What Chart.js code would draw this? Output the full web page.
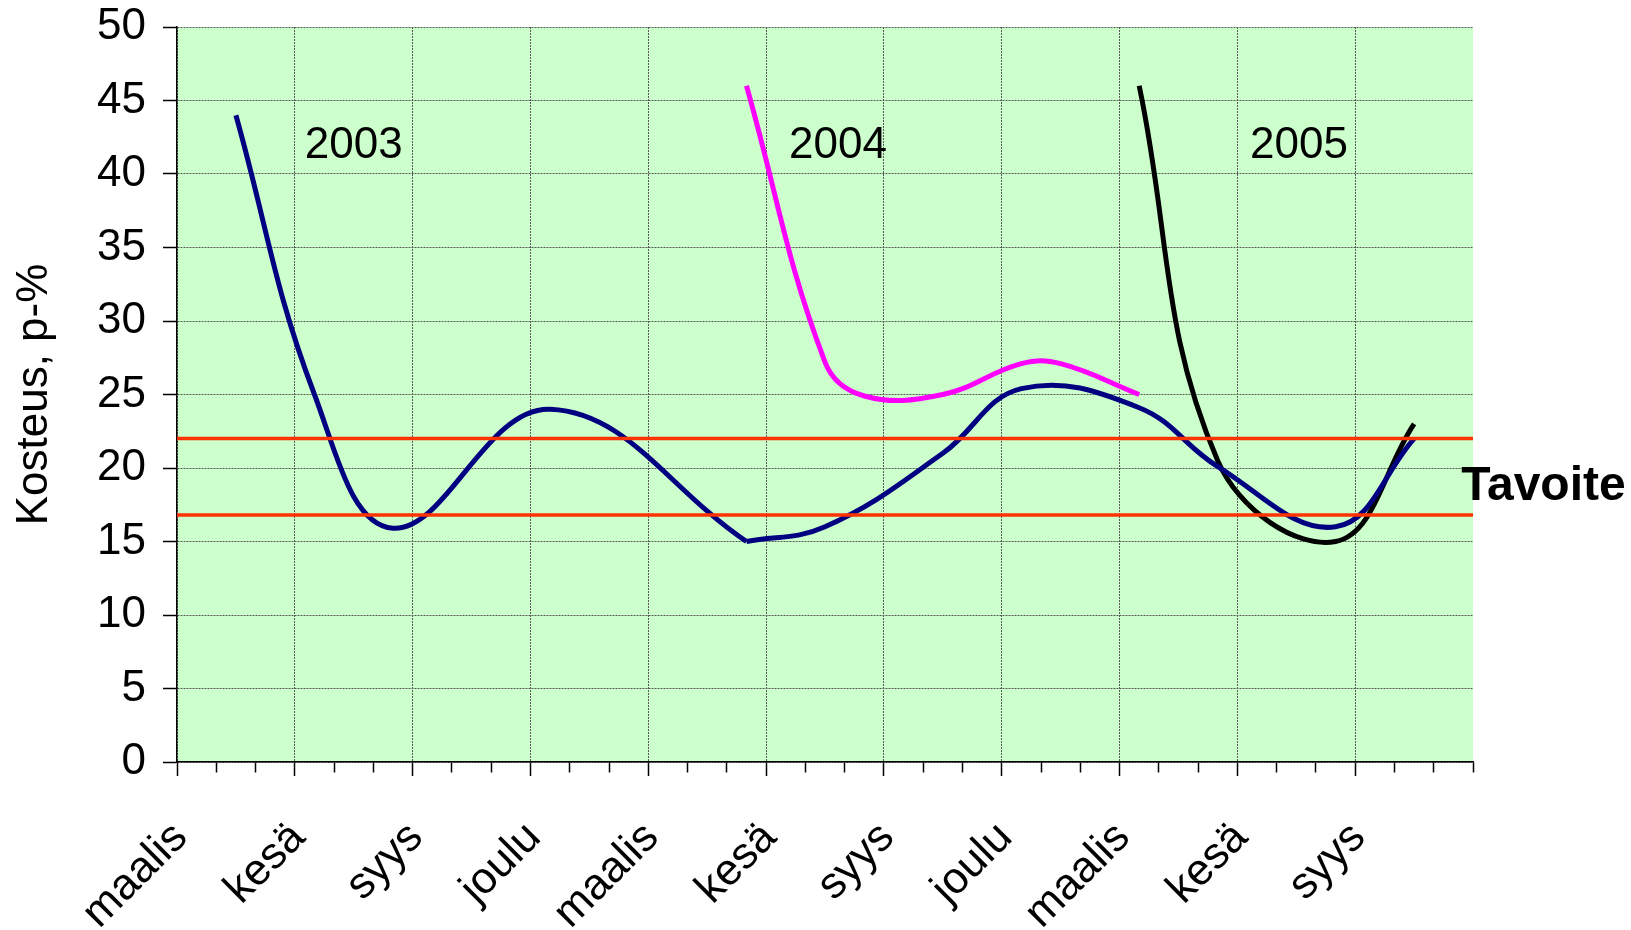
<!DOCTYPE html>
<html>
<head>
<meta charset="utf-8">
<script src="https://cdn.jsdelivr.net/npm/chart.js@4/dist/chart.umd.min.js"></script>
<style>
    html, body { margin: 0; padding: 0; background: #ffffff; }
    #wrap { width: 1631px; height: 930px; }
</style>
</head>
<body>
<div id="wrap"><canvas id="chart" width="1631" height="930"></canvas></div>
<script>
// kuukaudet maalis 2003 - marras 2005
const kuukaudet = [
    "maalis", "huhti", "touko", "kesä", "heinä", "elo", "syys", "loka", "marras", "joulu", "tammi", "helmi",
    "maalis", "huhti", "touko", "kesä", "heinä", "elo", "syys", "loka", "marras", "joulu", "tammi", "helmi",
    "maalis", "huhti", "touko", "kesä", "heinä", "elo", "syys", "loka", "marras"
];

const n = null;
// 2003 alkaen (tummansininen), kaksi osaa
const sarja2003 = [n, 44, n, 25, n, 15.9, n, n, n, 24, n, n, n, n, 15, n, n, n, n, n, n, n, n, n, n, n, n, n, n, n, n, n, n];
const sarja2003b = [n, n, n, n, n, n, n, n, n, n, n, n, n, n, 15, n, 16, n, n, 21, n, 25.4, n, n, 24.1, n, 20.1, n, n, 16, n, 22, n];
const sarja2004 = [n, n, n, n, n, n, n, n, n, n, n, n, n, n, 46, n, 27.2, 24.9, n, 25.0, n, 27.1, 27.1, n, 25, n, n, n, n, n, n, n, n];
const sarja2005 = [n, n, n, n, n, n, n, n, n, n, n, n, n, n, n, n, n, n, n, n, n, n, n, n, 46, n, 20.5, n, n, 15, n, 23, n];

const tavoiteYla = 22;
const tavoiteAla = 16.8;

const vuodet = ["2003", "2004", "2005"];
const vuosiX = [4.5, 16.83, 28.57];
const vuosiY = 41.9;

const fontti = "Arial, 'Liberation Sans', sans-serif";
const gridColor = "#5a5a5a";

const taustaPlugin = {
    id: "tausta",
    beforeDraw(chart) {
        const { ctx, chartArea } = chart;
        ctx.save();
        ctx.fillStyle = "#ffffff";
        ctx.fillRect(0, 0, chart.width, chart.height);
        ctx.fillStyle = "#CCFFCC";
        ctx.fillRect(chartArea.left, chartArea.top, chartArea.right - chartArea.left, chartArea.bottom - chartArea.top);
        ctx.restore();
    }
};

const tekstiPlugin = {
    id: "tekstit",
    afterDraw(chart) {
        const ctx = chart.ctx;
        const x2 = chart.scales.x2;
        const y = chart.scales.y;
        ctx.save();
        ctx.fillStyle = "#000000";
        ctx.textBaseline = "middle";
        ctx.textAlign = "center";
        ctx.font = "44px " + fontti;
        for (let i = 0; i < vuodet.length; i++) {
            ctx.fillText(vuodet[i], x2.getPixelForValue(vuosiX[i]), y.getPixelForValue(vuosiY));
        }
        ctx.textAlign = "left";
        ctx.font = "bold 48px " + fontti;
        ctx.fillText("Tavoite", x2.getPixelForValue(32.7), y.getPixelForValue(18.7));
        ctx.restore();
    }
};

function viiva(label, data, color, width, tension) {
    return {
        label: label,
        data: data,
        borderColor: color,
        backgroundColor: color,
        borderWidth: width,
        pointRadius: 0,
        spanGaps: true,
        tension: tension,
        fill: false,
        xAxisID: "x",
        yAxisID: "y"
    };
}

function tavoiteViiva(arvo) {
    return {
        label: "Tavoite " + arvo,
        data: [{ x: 0, y: arvo }, { x: kuukaudet.length, y: arvo }],
        borderColor: "#FF3300",
        borderWidth: 3.5,
        pointRadius: 0,
        tension: 0,
        fill: false,
        xAxisID: "x2",
        yAxisID: "y"
    };
}

const ctx = document.getElementById("chart");

const graph = new Chart(ctx, {
    type: "line",
    data: {
        labels: kuukaudet,
        datasets: [
            tavoiteViiva(tavoiteYla),
            tavoiteViiva(tavoiteAla),
            viiva("2003", sarja2003, "#000080", 5, 0.4),
            viiva("2003b", sarja2003b, "#000080", 5, 0.4),
            viiva("2004", sarja2004, "#FF00FF", 5, 0.4),
            viiva("2005", sarja2005, "#000000", 5, 0.4)
        ]
    },
    options: {
        responsive: false,
        animation: false,
        devicePixelRatio: 1,
        layout: {
            padding: { left: 0, top: 27, right: 158, bottom: 0 }
        },
        scales: {
            x: {
                type: "category",
                offset: true,
                grid: {
                    offset: true,
                    color: function(context) {
                        return context.index % 3 === 0 ? gridColor : "rgba(0,0,0,0)";
                    },
                    lineWidth: 1,
                    tickColor: "#000000",
                    tickLength: 14,
                    tickWidth: 1.5,
                    // lyhyemmät välimerkit kuukausille
                    tickBorderDash: function(context) {
                        return context.index % 3 === 0 ? [] : [10, 100];
                    }
                },
                border: { color: "#000000", width: 1.5, dash: [2, 1] },
                ticks: {
                    autoSkip: false,
                    minRotation: 45,
                    maxRotation: 45,
                    padding: 36,
                    labelOffset: -16,
                    color: "#000000",
                    font: { family: fontti, size: 44 },
                    callback: function(value, index) {
                        return index % 3 === 0 ? kuukaudet[index] : "";
                    }
                },
                afterFit: function(scale) {
                    scale.height = 168;
                    scale.paddingLeft = 0;
                    scale.paddingRight = 0;
                }
            },
            x2: {
                type: "linear",
                display: false,
                min: 0,
                max: kuukaudet.length
            },
            y: {
                min: 0,
                max: 50,
                grid: {
                    color: gridColor,
                    lineWidth: 1,
                    tickColor: "#000000",
                    tickLength: 14,
                    tickWidth: 1.5
                },
                border: { color: "#000000", width: 1.5, dash: [2, 1] },
                ticks: {
                    stepSize: 5,
                    padding: 17,
                    color: "#000000",
                    font: { family: fontti, size: 44 }
                },
                title: {
                    display: true,
                    text: "Kosteus, p-%",
                    color: "#000000",
                    font: { family: fontti, size: 44 },
                    padding: { top: 8, bottom: 0 }
                },
                afterFit: function(scale) {
                    scale.width = 177;
                    scale.paddingTop = 0;
                    scale.paddingBottom = 0;
                }
            }
        },
        plugins: {
            legend: { display: false },
            tooltip: { enabled: false },
            title: { display: false }
        }
    },
    plugins: [taustaPlugin, tekstiPlugin]
});
</script>
</body>
</html>
